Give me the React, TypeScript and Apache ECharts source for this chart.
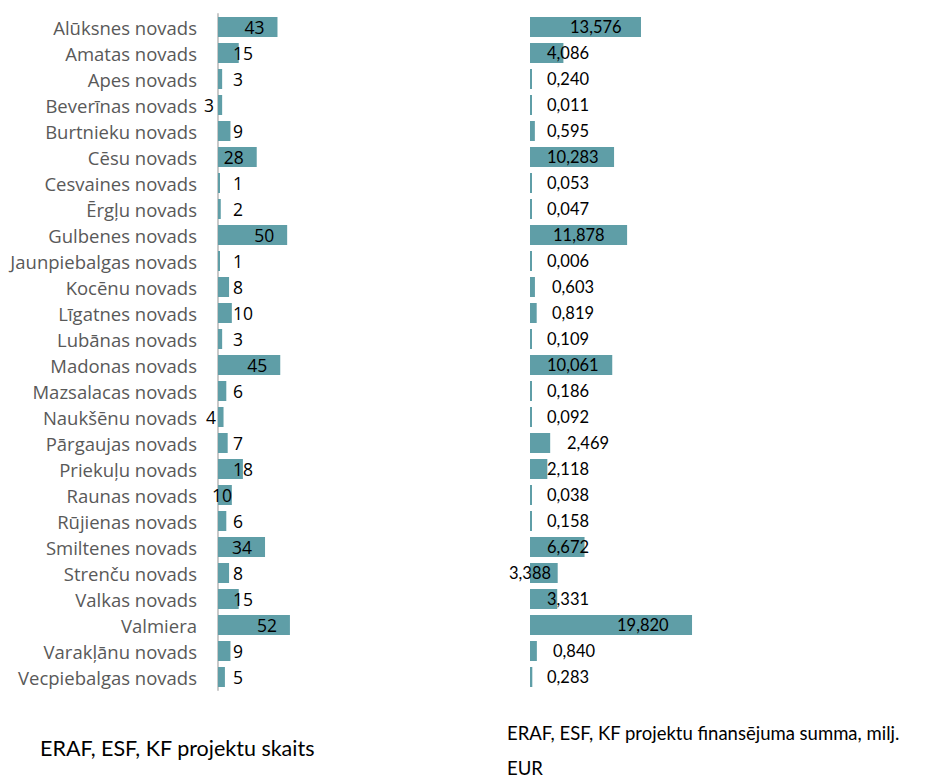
import React, { useEffect, useRef } from "react";
import * as echarts from "echarts";

const categories = [
  "Alūksnes novads", "Amatas novads", "Apes novads", "Beverīnas novads", "Burtnieku novads",
  "Cēsu novads", "Cesvaines novads", "Ērgļu novads", "Gulbenes novads", "Jaunpiebalgas novads",
  "Kocēnu novads", "Līgatnes novads", "Lubānas novads", "Madonas novads", "Mazsalacas novads",
  "Naukšēnu novads", "Pārgaujas novads", "Priekuļu novads", "Raunas novads", "Rūjienas novads",
  "Smiltenes novads", "Strenču novads", "Valkas novads", "Valmiera", "Varakļānu novads",
  "Vecpiebalgas novads",
];
const projectCounts = [43, 15, 3, 3, 9, 28, 1, 2, 50, 1, 8, 10, 3, 45, 6, 4, 7, 18, 10, 6, 34, 8, 15, 52, 9, 5];
const fundingMillions = [
  13.576, 4.086, 0.24, 0.011, 0.595, 10.283, 0.053, 0.047, 11.878, 0.006, 0.603, 0.819, 0.109,
  10.061, 0.186, 0.092, 2.469, 2.118, 0.038, 0.158, 6.672, 3.388, 3.331, 19.82, 0.84, 0.283,
];
const leftTitle = "ERAF, ESF, KF projektu skaits";
const rightTitleLine1 = "ERAF, ESF, KF projektu finansējuma summa, milj.";
const rightTitleLine2 = "EUR";

const BAR = "#5f9ea7";

export default function App() {
  const ref = useRef<HTMLDivElement>(null);
  useEffect(() => {
    const chart = echarts.init(ref.current!, null, { renderer: "svg" });

    const leftOverride: Record<number, any> = {
      3: { position: [-4, "50%"], align: "right" },
      15: { position: [-2, "50%"], align: "right" },
      18: { position: [-6, "50%"], align: "left" },
    };
    const leftData = projectCounts.map((v, i) => {
      let label: any;
      if (leftOverride[i]) label = { ...leftOverride[i], verticalAlign: "middle" };
      else if (v >= 25) label = { position: ["100%", "50%"], offset: [-13, 0], align: "right", verticalAlign: "middle" };
      else label = { position: [15, "50%"], align: "left", verticalAlign: "middle" };
      return { value: v, label };
    });

    const rightOffsets: Record<number, number> = {
      0: 40, 8: 23, 10: 22, 11: 22, 16: 37, 21: -21, 23: 87, 24: 23,
    };
    const rightData = fundingMillions.map((v, i) => ({
      value: v,
      label: {
        position: [rightOffsets[i] ?? 17, "50%"],
        align: "left",
        verticalAlign: "middle",
      },
    }));

    const rowHeight = 26;
    const top = 14;
    const height = rowHeight * categories.length;

    chart.setOption({
      animation: false,
      grid: [
        { left: 218, top, width: 83, height },
        { left: 530, top, width: 163.5, height },
      ],
      xAxis: [
        { gridIndex: 0, type: "value", min: 0, max: 60, show: false },
        { gridIndex: 1, type: "value", min: 0, max: 20, show: false },
      ],
      yAxis: [
        {
          gridIndex: 0,
          type: "category",
          data: categories,
          inverse: true,
          axisLine: { show: true, lineStyle: { color: "#c9c9c9", width: 2 } },
          axisTick: { show: false },
          axisLabel: {
            color: "#595959",
            fontSize: 18.5,
            fontFamily: "'Open Sans', Lato, sans-serif",
            margin: 21,
          },
        },
        {
          gridIndex: 1,
          type: "category",
          data: categories,
          inverse: true,
          axisLine: { show: false },
          axisTick: { show: false },
          axisLabel: { show: false },
        },
      ],
      series: [
        {
          type: "bar",
          xAxisIndex: 0,
          yAxisIndex: 0,
          data: leftData,
          barWidth: 20,
          barMinHeight: 2,
          itemStyle: { color: BAR },
          label: {
            show: true,
            color: "#000",
            fontSize: 17.5,
            fontFamily: "'Open Sans', Lato, sans-serif",
          },
        },
        {
          type: "bar",
          xAxisIndex: 1,
          yAxisIndex: 1,
          data: rightData,
          barWidth: 20,
          barMinHeight: 2,
          itemStyle: { color: BAR },
          label: {
            show: true,
            color: "#000",
            fontSize: 16.5,
            fontFamily: "Lato, 'Open Sans', sans-serif",
            formatter: (p: any) => Number(p.value).toFixed(3).replace(".", ","),
          },
        },
      ],
      graphic: [
        {
          type: "text",
          left: 40,
          top: 737,
          style: {
            text: leftTitle,
            fontSize: 21.5,
            fill: "#000",
            fontFamily: "Lato, 'Open Sans', sans-serif",
          },
        },
        {
          type: "text",
          left: 507,
          top: 723,
          style: {
            text: rightTitleLine1,
            fontSize: 18.5,
            fill: "#000",
            fontFamily: "Lato, 'Open Sans', sans-serif",
          },
        },
        {
          type: "text",
          left: 507,
          top: 758,
          style: {
            text: rightTitleLine2,
            fontSize: 18.5,
            fill: "#000",
            fontFamily: "Lato, 'Open Sans', sans-serif",
          },
        },
      ],
    });
    return () => chart.dispose();
  }, []);
  return (
    <div
      ref={ref}
      style={{ position: "absolute", left: 0, top: 0, width: 944, height: 783 }}
    />
  );
}
